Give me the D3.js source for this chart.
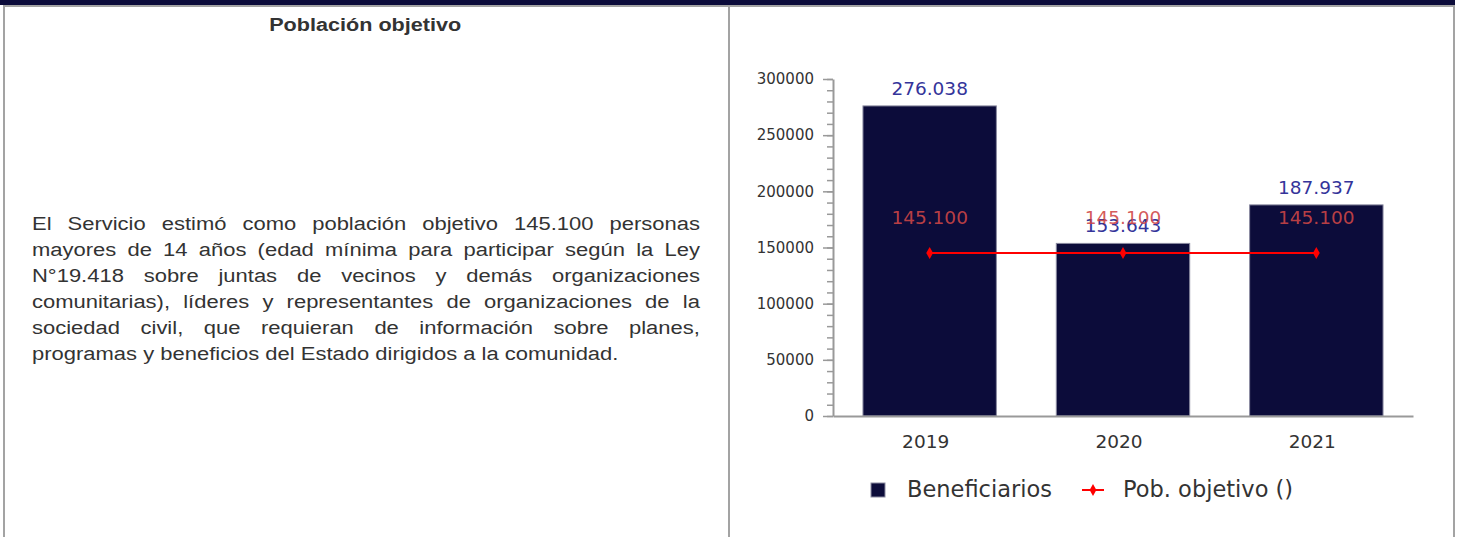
<!DOCTYPE html>
<html>
<head>
<meta charset="utf-8">
<script src="https://cdn.jsdelivr.net/npm/d3@7"></script>
<style>
  body { margin: 0; background: #fff; }
  #page { position: relative; width: 1458px; height: 537px; overflow: hidden; }
  .band { position: absolute; left: 0; top: 0; width: 1455px; height: 5px; background: #0b0b3a; }
  .hline { position: absolute; left: 3px; top: 5px; width: 1452px; height: 2px; background: #a3a3a3; }
  .vline { position: absolute; top: 5px; width: 2px; height: 532px; background: #a3a3a3; }
  #title { position: absolute; left: 5px; width: 722px; top: 15px; text-align: center;
           font: bold 18px "Liberation Sans", Arial, sans-serif; color: #333;
           transform: scaleX(1.2); transform-origin: 365px 0; }
  #para { position: absolute; left: 32px; width: 547px; top: 211px; text-align: justify;
          font: 18px/26px "Liberation Sans", Arial, sans-serif; color: #333;
          transform: scaleX(1.221); transform-origin: 0 0; }
  svg { position: absolute; left: 0; top: 0; }
</style>
</head>
<body>
<div id="page">
  <div class="band"></div>
  <div class="hline"></div>
  <div class="vline" style="left:3px"></div>
  <div class="vline" style="left:728px"></div>
  <div class="vline" style="left:1453px"></div>
  <div id="title">Población objetivo</div>
  <div id="para">El Servicio estimó como población objetivo 145.100 personas mayores de 14 años (edad mínima para participar según la Ley N°19.418 sobre juntas de vecinos y demás organizaciones comunitarias), líderes y representantes de organizaciones de la sociedad civil, que requieran de información sobre planes, programas y beneficios del Estado dirigidos a la comunidad.</div>
  <svg id="chart" width="1458" height="537"></svg>
</div>
<script>
// data
var years = ['2019', '2020', '2021'];
var beneficiarios = [276038, 153643, 187937];
var pobObjetivo = [145100, 145100, 145100];
var yTicks = [0, 50000, 100000, 150000, 200000, 250000, 300000];
var yMinorTicks = d3.range(0, 300001, 10000);
var seriesNames = ['Beneficiarios', 'Pob. objetivo ()'];

var NAVY = '#0c0c3a';
var RED = '#ff0000';
var FONT = '"DejaVu Sans", sans-serif';

var es = d3.formatLocale({decimal: ',', thousands: '.', grouping: [3], currency: ['$', '']});
var fmt = es.format(',d');

var svg = d3.select('#chart');

var x = d3.scaleBand()
    .domain(years)
    .range([833, 1413])
    .paddingInner(0.31)
    .paddingOuter(0.155);

var y = d3.scaleLinear()
    .domain([0, 300000])
    .range([416, 79]);

// minor ticks
svg.append('g')
    .attr('transform', 'translate(833,0)')
    .call(d3.axisLeft(y).tickValues(yMinorTicks).tickSize(6).tickFormat(''))
    .call(function(g) { g.select('.domain').remove(); })
    .selectAll('line').attr('stroke', '#999').attr('stroke-width', 1.5);

// y axis
var ya = svg.append('g')
    .attr('transform', 'translate(833,0)')
    .call(d3.axisLeft(y).tickValues(yTicks).tickSize(10).tickSizeOuter(0).tickPadding(9).tickFormat(d3.format('d')));
ya.select('.domain').attr('stroke', '#999').attr('stroke-width', 2);
ya.selectAll('line').attr('stroke', '#999').attr('stroke-width', 1.5);
ya.selectAll('text').attr('font-family', FONT).attr('font-size', 15).attr('fill', '#333');

// bars
svg.append('g').selectAll('rect')
    .data(beneficiarios)
    .join('rect')
    .attr('x', function(d, i) { return x(years[i]); })
    .attr('y', function(d) { return y(d); })
    .attr('width', x.bandwidth())
    .attr('height', function(d) { return y(0) - y(d); })
    .attr('fill', NAVY)
    .attr('stroke', '#8a8aa0')
    .attr('stroke-width', 1);

// x axis
var xa = svg.append('g')
    .attr('transform', 'translate(0,416)')
    .call(d3.axisBottom(x).tickSize(0).tickPadding(19));
xa.select('.domain').attr('stroke', '#999').attr('stroke-width', 2);
xa.selectAll('text').attr('font-family', FONT).attr('font-size', 18.5).attr('fill', '#333').attr('dx', -4);

// bar labels
svg.append('g').selectAll('text')
    .data(beneficiarios)
    .join('text')
    .attr('x', function(d, i) { return x(years[i]) + x.bandwidth() / 2; })
    .attr('y', function(d) { return y(d) - 11; })
    .attr('text-anchor', 'middle')
    .attr('font-family', FONT)
    .attr('font-size', 18.5)
    .attr('fill', '#34349a')
    .text(function(d) { return fmt(d); });

// target line
var line = d3.line()
    .x(function(d, i) { return x(years[i]) + x.bandwidth() / 2; })
    .y(function(d) { return y(d); });

svg.append('path')
    .datum(pobObjetivo)
    .attr('fill', 'none')
    .attr('stroke', RED)
    .attr('stroke-width', 2)
    .attr('d', line);

svg.append('g').selectAll('path')
    .data(pobObjetivo)
    .join('path')
    .attr('transform', function(d, i) { return 'translate(' + (x(years[i]) + x.bandwidth() / 2) + ',' + y(d) + ')'; })
    .attr('d', d3.symbol(d3.symbolDiamond, 40))
    .attr('fill', RED);

svg.append('g').selectAll('text')
    .data(pobObjetivo)
    .join('text')
    .attr('x', function(d, i) { return x(years[i]) + x.bandwidth() / 2; })
    .attr('y', function(d) { return y(d) - 29; })
    .attr('text-anchor', 'middle')
    .attr('font-family', FONT)
    .attr('font-size', 18.5)
    .attr('fill', '#cf4646')
    .attr('fill-opacity', 0.9)
    .text(function(d) { return fmt(d); });

// legend
var lg = svg.append('g').attr('font-family', FONT).attr('font-size', 22.5).attr('fill', '#333');
lg.append('rect').attr('x', 871).attr('y', 483).attr('width', 14).attr('height', 14)
    .attr('fill', NAVY).attr('stroke', '#8a8aa0');
lg.append('text').attr('x', 907).attr('y', 497).text(seriesNames[0]);
lg.append('line').attr('x1', 1082).attr('x2', 1104).attr('y1', 490).attr('y2', 490)
    .attr('stroke', RED).attr('stroke-width', 2);
lg.append('path').attr('transform', 'translate(1093,490)')
    .attr('d', d3.symbol(d3.symbolDiamond, 40)).attr('fill', RED);
lg.append('text').attr('x', 1123).attr('y', 497).text(seriesNames[1]);
</script>
</body>
</html>
